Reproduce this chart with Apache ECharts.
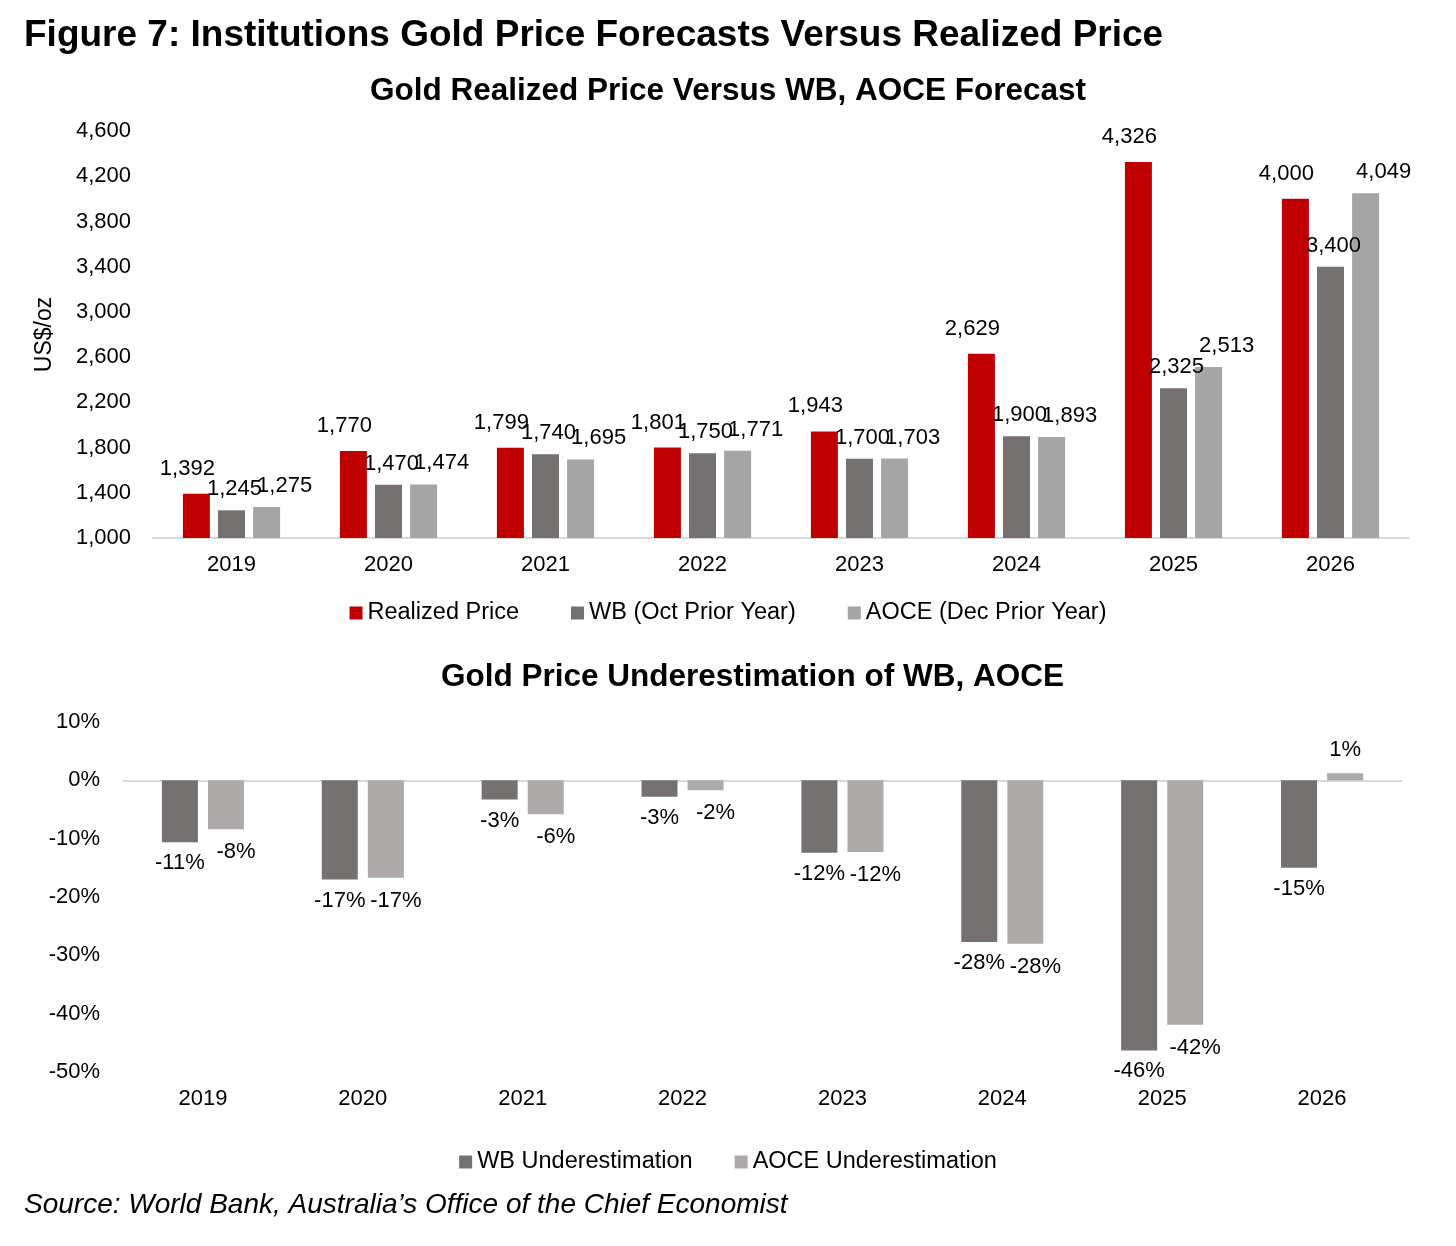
<!DOCTYPE html>
<html>
<head>
<meta charset="utf-8">
<script src="https://cdn.jsdelivr.net/npm/echarts@6/dist/echarts.min.js"></script>
<style>
html,body{margin:0;padding:0;background:#fff;}
#chart{width:1456px;height:1246px;}
</style>
</head>
<body>
<div id="chart"></div>
<script>
// ---- data ----
const years = ['2019','2020','2021','2022','2023','2024','2025','2026'];
const realizedPrice = [1392, 1770, 1799, 1801, 1943, 2629, 4326, 4000];
const wbForecast    = [1245, 1470, 1740, 1750, 1700, 1900, 2325, 3400];
const aoceForecast  = [1275, 1474, 1695, 1771, 1703, 1893, 2513, 4049];
const priceTicks    = [1000, 1400, 1800, 2200, 2600, 3000, 3400, 3800, 4200, 4600];

const wbUnder   = [-10.6, -17.0, -3.3, -2.8, -12.4, -27.7, -46.3, -15.0];
const aoceUnder = [-8.4, -16.7, -5.8, -1.7, -12.3, -28.0, -41.9, 1.2];
const pctTicks  = [10, 0, -10, -20, -30, -40, -50];

const FONT = '"Liberation Sans", Arial, Helvetica, sans-serif';
const RED = '#C00000', DARK = '#767171', LIGHT = '#A5A5A5', LIGHT2 = '#AEAAAA';

const chart = echarts.init(document.getElementById('chart'), null, {renderer: 'canvas'});

function pctData(arr, negOffsetX) {
  return arr.map(v => ({
    value: v,
    label: v < 0 ? {position: 'bottom', offset: [negOffsetX, 0]} : {position: 'top', offset: [0, 0]}
  }));
}
const fmtNum = p => Number(p.value).toLocaleString('en-US');
const fmtPct = p => Math.round(p.value) + '%';

const option = {
  backgroundColor: '#fff',
  textStyle: {fontFamily: FONT, color: '#000'},
  animation: false,
  title: [
    {text: 'Figure 7: Institutions Gold Price Forecasts Versus Realized Price', left: 19, top: 12,
     textStyle: {fontFamily: FONT, fontSize: 37, fontWeight: 'bold', color: '#000'}},
    {text: 'Gold Realized Price Versus WB, AOCE Forecast', left: 'center', top: 70,
     textStyle: {fontFamily: FONT, fontSize: 31.5, fontWeight: 'bold', color: '#000'}},
    {text: 'Gold Price Underestimation of WB, AOCE', left: 436, top: 656,
     textStyle: {fontFamily: FONT, fontSize: 31.5, fontWeight: 'bold', color: '#000'}},
    {text: 'Source: World Bank, Australia\u2019s Office of the Chief Economist', left: 19, top: 1186,
     textStyle: {fontFamily: FONT, fontSize: 28, fontStyle: 'italic', fontWeight: 'normal', color: '#000'}}
  ],
  legend: [
    {data: ['Realized Price', 'WB (Oct Prior Year)', 'AOCE (Dec Prior Year)'], left: 'center', top: 596,
     itemWidth: 13, itemHeight: 13, itemGap: 52, icon: 'rect',
     textStyle: {fontFamily: FONT, fontSize: 23.5, color: '#000'}},
    {data: ['WB Underestimation', 'AOCE Underestimation'], left: 'center', top: 1145,
     itemWidth: 13, itemHeight: 13, itemGap: 42, icon: 'rect',
     textStyle: {fontFamily: FONT, fontSize: 23.5, color: '#000'}}
  ],
  grid: [
    {left: 153, right: 47, top: 131, height: 407, containLabel: false},
    {left: 123, right: 54, top: 722, height: 350, containLabel: false}
  ],
  xAxis: [
    {type: 'category', gridIndex: 0, data: years,
     axisLine: {lineStyle: {color: '#D9D9D9', width: 2}}, axisTick: {show: false},
     axisLabel: {fontFamily: FONT, fontSize: 22, color: '#000', margin: 16}},
    {type: 'category', gridIndex: 1, data: years, position: 'bottom',
     axisLine: {show: false, onZero: false}, axisTick: {show: false},
     axisLabel: {fontFamily: FONT, fontSize: 22, color: '#000', margin: 16}}
  ],
  yAxis: [
    {type: 'value', gridIndex: 0, min: priceTicks[0], max: priceTicks[priceTicks.length - 1], interval: 400,
     name: 'US$/oz', nameLocation: 'middle', nameGap: 97, nameRotate: 90,
     nameTextStyle: {fontFamily: FONT, fontSize: 23, color: '#000'},
     axisLine: {show: false}, axisTick: {show: false}, splitLine: {show: false},
     axisLabel: {fontFamily: FONT, fontSize: 22, color: '#000', margin: 22,
                 customValues: priceTicks,
                 formatter: v => Number(v).toLocaleString('en-US')}},
    {type: 'value', gridIndex: 1, min: -50, max: 10, interval: 10,
     axisLine: {show: false}, axisTick: {show: false}, splitLine: {show: false},
     axisLabel: {fontFamily: FONT, fontSize: 22, color: '#000', margin: 23,
                 customValues: pctTicks, formatter: v => v + '%'}}
  ],
  series: [
    {name: 'Realized Price', type: 'bar', xAxisIndex: 0, yAxisIndex: 0, data: realizedPrice,
     barWidth: 27, barGap: '30%', itemStyle: {color: RED},
     label: {show: true, position: 'top', distance: 14, offset: [-9, 0], formatter: fmtNum,
             fontFamily: FONT, fontSize: 22, color: '#000'}},
    {name: 'WB (Oct Prior Year)', type: 'bar', xAxisIndex: 0, yAxisIndex: 0, data: wbForecast,
     barWidth: 27, barGap: '30%', itemStyle: {color: DARK},
     label: {show: true, position: 'top', distance: 10, offset: [3, 0], formatter: fmtNum,
             fontFamily: FONT, fontSize: 22, color: '#000'}},
    {name: 'AOCE (Dec Prior Year)', type: 'bar', xAxisIndex: 0, yAxisIndex: 0, data: aoceForecast,
     barWidth: 27, barGap: '30%', itemStyle: {color: LIGHT},
     label: {show: true, position: 'top', distance: 10, offset: [18, 0], formatter: fmtNum,
             fontFamily: FONT, fontSize: 22, color: '#000'}},
    {name: 'WB Underestimation', type: 'bar', xAxisIndex: 1, yAxisIndex: 1, data: pctData(wbUnder, 0),
     barWidth: 36, barGap: '28%', itemStyle: {color: DARK},
     label: {show: true, distance: 10, formatter: fmtPct, fontFamily: FONT, fontSize: 22, color: '#000'},
     markLine: {silent: true, symbol: 'none', label: {show: false}, z: 1,
                lineStyle: {color: '#D9D9D9', width: 2, type: 'solid'},
                data: [{yAxis: 0}]}},
    {name: 'AOCE Underestimation', type: 'bar', xAxisIndex: 1, yAxisIndex: 1, data: pctData(aoceUnder, 10),
     barWidth: 36, barGap: '28%', itemStyle: {color: LIGHT2},
     label: {show: true, distance: 12, formatter: fmtPct, fontFamily: FONT, fontSize: 22, color: '#000'}}
  ]
};
chart.setOption(option);
</script>
</body>
</html>
